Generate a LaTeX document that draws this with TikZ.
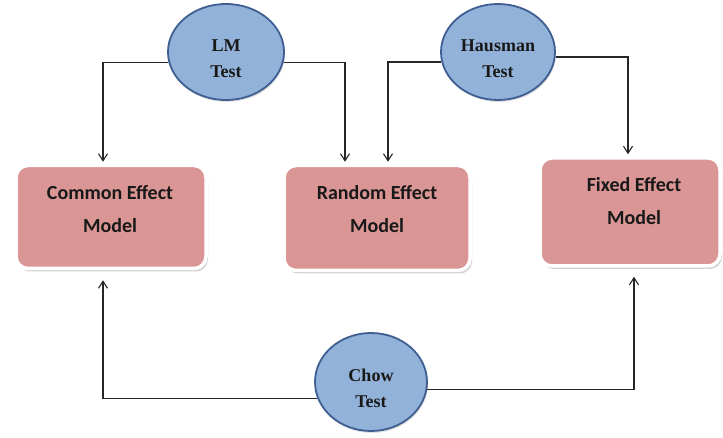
\documentclass[tikz,border=0pt]{standalone}
\usepackage{fontspec}
\setmainfont{Liberation Serif}
\newfontfamily\boxfont{Carlito}
\usetikzlibrary{shapes.geometric,shadows,arrows.meta}
\definecolor{ellfill}{HTML}{92B2D9}
\definecolor{elldraw}{HTML}{3F5F92}
\definecolor{boxfill}{HTML}{D99694}
\tikzset{
  testell/.style={ellipse, fill=ellfill, draw=elldraw, line width=1.8pt, inner sep=0pt,
    drop shadow={shadow xshift=1pt, shadow yshift=-2pt, opacity=0.25}},
  elltext/.style={font=\fontsize{18}{26}\selectfont\bfseries, align=center, text=black!90, inner sep=0pt},
  modelbox/.style={rectangle, rounded corners=12pt, fill=boxfill, draw=white, line width=3.5pt, inner sep=0pt,
    drop shadow={shadow xshift=2pt, shadow yshift=-3pt, opacity=0.35}},
  boxtext/.style={font=\boxfont\fontsize{20}{33}\selectfont\bfseries, align=center, text=black!90, inner sep=0pt},
  arr/.style={draw=black!85, line width=1.1pt, -{Straight Barb[length=7pt,width=9pt]}}
}
\begin{document}
\begin{tikzpicture}[x=1pt,y=-1pt]
\useasboundingbox[fill=white] (0,0) rectangle (723,438);
\node[modelbox, minimum width=190pt, minimum height=103pt] (ce) at (111,217) {};
\node[modelbox, minimum width=186pt, minimum height=105pt] (re) at (377,218) {};
\node[modelbox, minimum width=180pt, minimum height=108pt] (fe) at (630,212) {};
\node[boxtext] (cet) at (110,209) {Common Effect\\Model};
\node[boxtext] (ret) at (377,209) {Random Effect\\Model};
\node[boxtext] (fet) at (634,201.5) {Fixed Effect\\Model};
\node[testell, minimum width=116pt, minimum height=96pt] (lm) at (226,52) {};
\node[testell, minimum width=114pt, minimum height=96pt] (hm) at (498,52) {};
\node[testell, minimum width=112pt, minimum height=98pt] (ch) at (371,382) {};
\node[elltext] (lmt) at (226,59) {LM\\Test};
\node[elltext] (hmt) at (498,59) {Hausman\\Test};
\node[elltext] (cht) at (371,388) {Chow\\Test};
\draw[arr, shorten >=2pt] (lm.190) -| ([xshift=-8pt]ce.north);
\draw[arr, shorten >=2pt] (lm.350) -| ([xshift=-32pt]re.north);
\draw[arr, shorten >=2pt] (hm.190) -| ([xshift=11pt]re.north);
\draw[arr, shorten >=2pt] (hm.355) -| ([xshift=-2pt]fe.north);
\draw[arr, shorten >=10pt] (ch.197) -| ([xshift=-8pt]ce.south);
\draw[arr, shorten >=9pt] (ch.352) -| ([xshift=4pt]fe.south);
\end{tikzpicture}
\end{document}
